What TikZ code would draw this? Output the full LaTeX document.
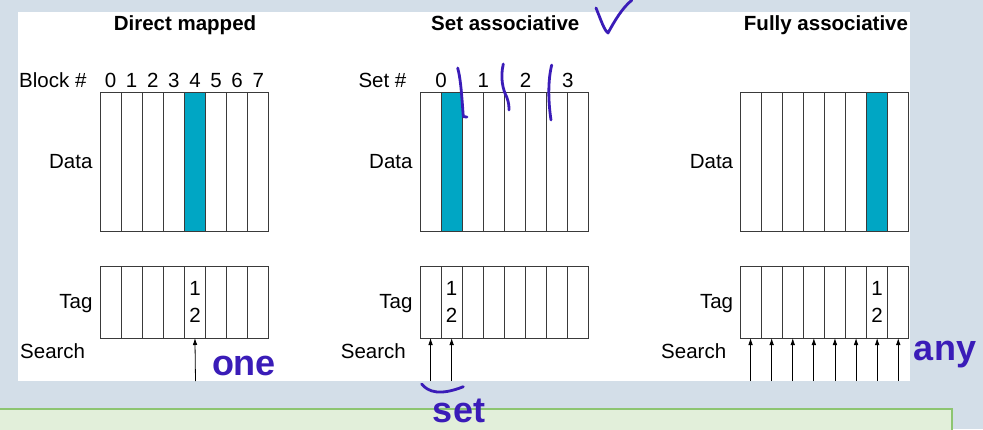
\documentclass[tikz,border=0pt]{standalone}
\usepackage{fontspec}
\setmainfont{Liberation Sans}
\usetikzlibrary{positioning,arrows.meta}
\definecolor{slidebg}{HTML}{D3DEE8}
\definecolor{hitcolour}{HTML}{00A6C4}
\definecolor{inkcolour}{HTML}{3A1CB8}
\definecolor{notefill}{HTML}{E2EFDA}
\definecolor{noteline}{HTML}{8DC571}
\definecolor{cellline}{HTML}{3A3A3A}

\begin{document}
\begin{tikzpicture}[
  x=1pt, y=-1pt,
  cell/.style = {draw=cellline, line width=1pt, fill=white, minimum width=21.1pt, inner sep=0pt, outer sep=0pt, anchor=north west},
  datacell/.style = {cell, minimum height=139pt},
  tagcell/.style = {cell, minimum height=72pt},
  hit/.style = {fill=hitcolour, draw=cellline, line width=1pt},
  lab/.style = {font=\fontsize{20.5}{27.7}\selectfont, inner sep=0pt},
  title/.style = {font=\fontsize{20.5}{24}\selectfont\bfseries, inner sep=0pt, anchor=base},
  search/.style = {-{Latex[length=7pt,width=4.6pt]}, line width=0.8pt},
  ink/.style = {draw=inkcolour, line width=2.8pt, line cap=round, line join=round},
  inktext/.style = {text=inkcolour, font=\fontsize{36}{36}\selectfont\bfseries, inner sep=0pt}
  ]

  \useasboundingbox (0,0) rectangle (983,429);
  \fill[slidebg] (0,0) rectangle (983,429);
  \fill[white] (18,12) rectangle (910,381);
  \draw[fill=notefill, draw=noteline, line width=1.5pt] (-2,409) rectangle (952,432);

  % direct mapped
  \node[title] (dm_title) at (185,30.7) {Direct mapped};
  \node[lab, anchor=base west] (dm_block) at (19,87) {Block \#};
  \foreach \i in {0,...,7} {
    \node[datacell] (dm_data\i) at (100+21.1*\i,92) {};
    \node[tagcell] (dm_tag\i) at (100+21.1*\i,266) {};
    \node[lab, anchor=base] (dm_num\i) at (110.55+21.1*\i,87) {\i};
  }
  \fill[hit] (dm_data4.north west) rectangle (dm_data4.south east);
  \node[lab, align=center] (dm_tagval) at (dm_tag4) {1\\2};
  \node[lab, anchor=base east] (dm_datalab) at (92.7,168.3) {Data};
  \node[lab, anchor=base east] (dm_taglab) at (92.7,308.3) {Tag};
  \node[lab, anchor=base west] (dm_search) at (20,358.3) {Search};
  \coordinate (dm_in) at (195.5,381);
  \draw[search] (dm_in) -- (dm_tag4.south);

  % set associative
  \node[title] (sa_title) at (505.3,30.7) {Set associative};
  \node[lab, anchor=base west] (sa_set) at (358.3,87) {Set \#};
  \foreach \i in {0,...,7} {
    \node[datacell] (sa_data\i) at (420+21.1*\i,92) {};
    \node[tagcell] (sa_tag\i) at (420+21.1*\i,266) {};
  }
  \foreach \k in {0,...,3}
    \node[lab, anchor=base] (sa_num\k) at (441.1+42.2*\k,87) {\k};
  \fill[hit] (sa_data1.north west) rectangle (sa_data1.south east);
  \node[lab, align=center] (sa_tagval) at (sa_tag1) {1\\2};
  \node[lab, anchor=base east] (sa_datalab) at (412.7,168.3) {Data};
  \node[lab, anchor=base east] (sa_taglab) at (412.7,308.3) {Tag};
  \node[lab, anchor=base west] (sa_search) at (340.7,358.3) {Search};
  \foreach \i in {0,1} {
    \coordinate (sa_in\i) at (430.55+21.1*\i,381);
    \draw[search] (sa_in\i) -- (sa_tag\i.south);
  }

  % fully associative
  \node[title] (fa_title) at (826,30.7) {Fully associative};
  \foreach \i in {0,...,7} {
    \node[datacell] (fa_data\i) at (740+21.1*\i,92) {};
    \node[tagcell] (fa_tag\i) at (740+21.1*\i,266) {};
    \coordinate (fa_in\i) at (750.55+21.1*\i,381);
    \draw[search] (fa_in\i) -- (fa_tag\i.south);
  }
  \fill[hit] (fa_data6.north west) rectangle (fa_data6.south east);
  \node[lab, align=center] (fa_tagval) at (fa_tag6) {1\\2};
  \node[lab, anchor=base east] (fa_datalab) at (733.3,168.3) {Data};
  \node[lab, anchor=base east] (fa_taglab) at (733.3,308.3) {Tag};
  \node[lab, anchor=base west] (fa_search) at (661,358.3) {Search};

  % handwritten notes
  \draw[ink] (596,8) .. controls (601,20) and (604,30) .. (608,33) .. controls (614,22) and (622,8) .. (632,0);
  \draw[ink] (457.7,68) .. controls (461,80) and (462,100) .. (463.3,116.7) -- (467,117);
  \draw[ink] (503.3,64) .. controls (500,78) and (503,90) .. (506.7,97) .. controls (509,103) and (509,107) .. (509,110);
  \draw[ink] (551.7,65) .. controls (548,80) and (548,100) .. (551,120);
  \draw[ink] (421.7,384) .. controls (428,392) and (440,396) .. (463.3,386.7);
  \node[inktext] (note_one) at (244,366) {one};
  \node[inktext] (note_set) at (459,411) {set};
  \node[inktext] (note_any) at (945,355) {any};

\end{tikzpicture}
\end{document}
